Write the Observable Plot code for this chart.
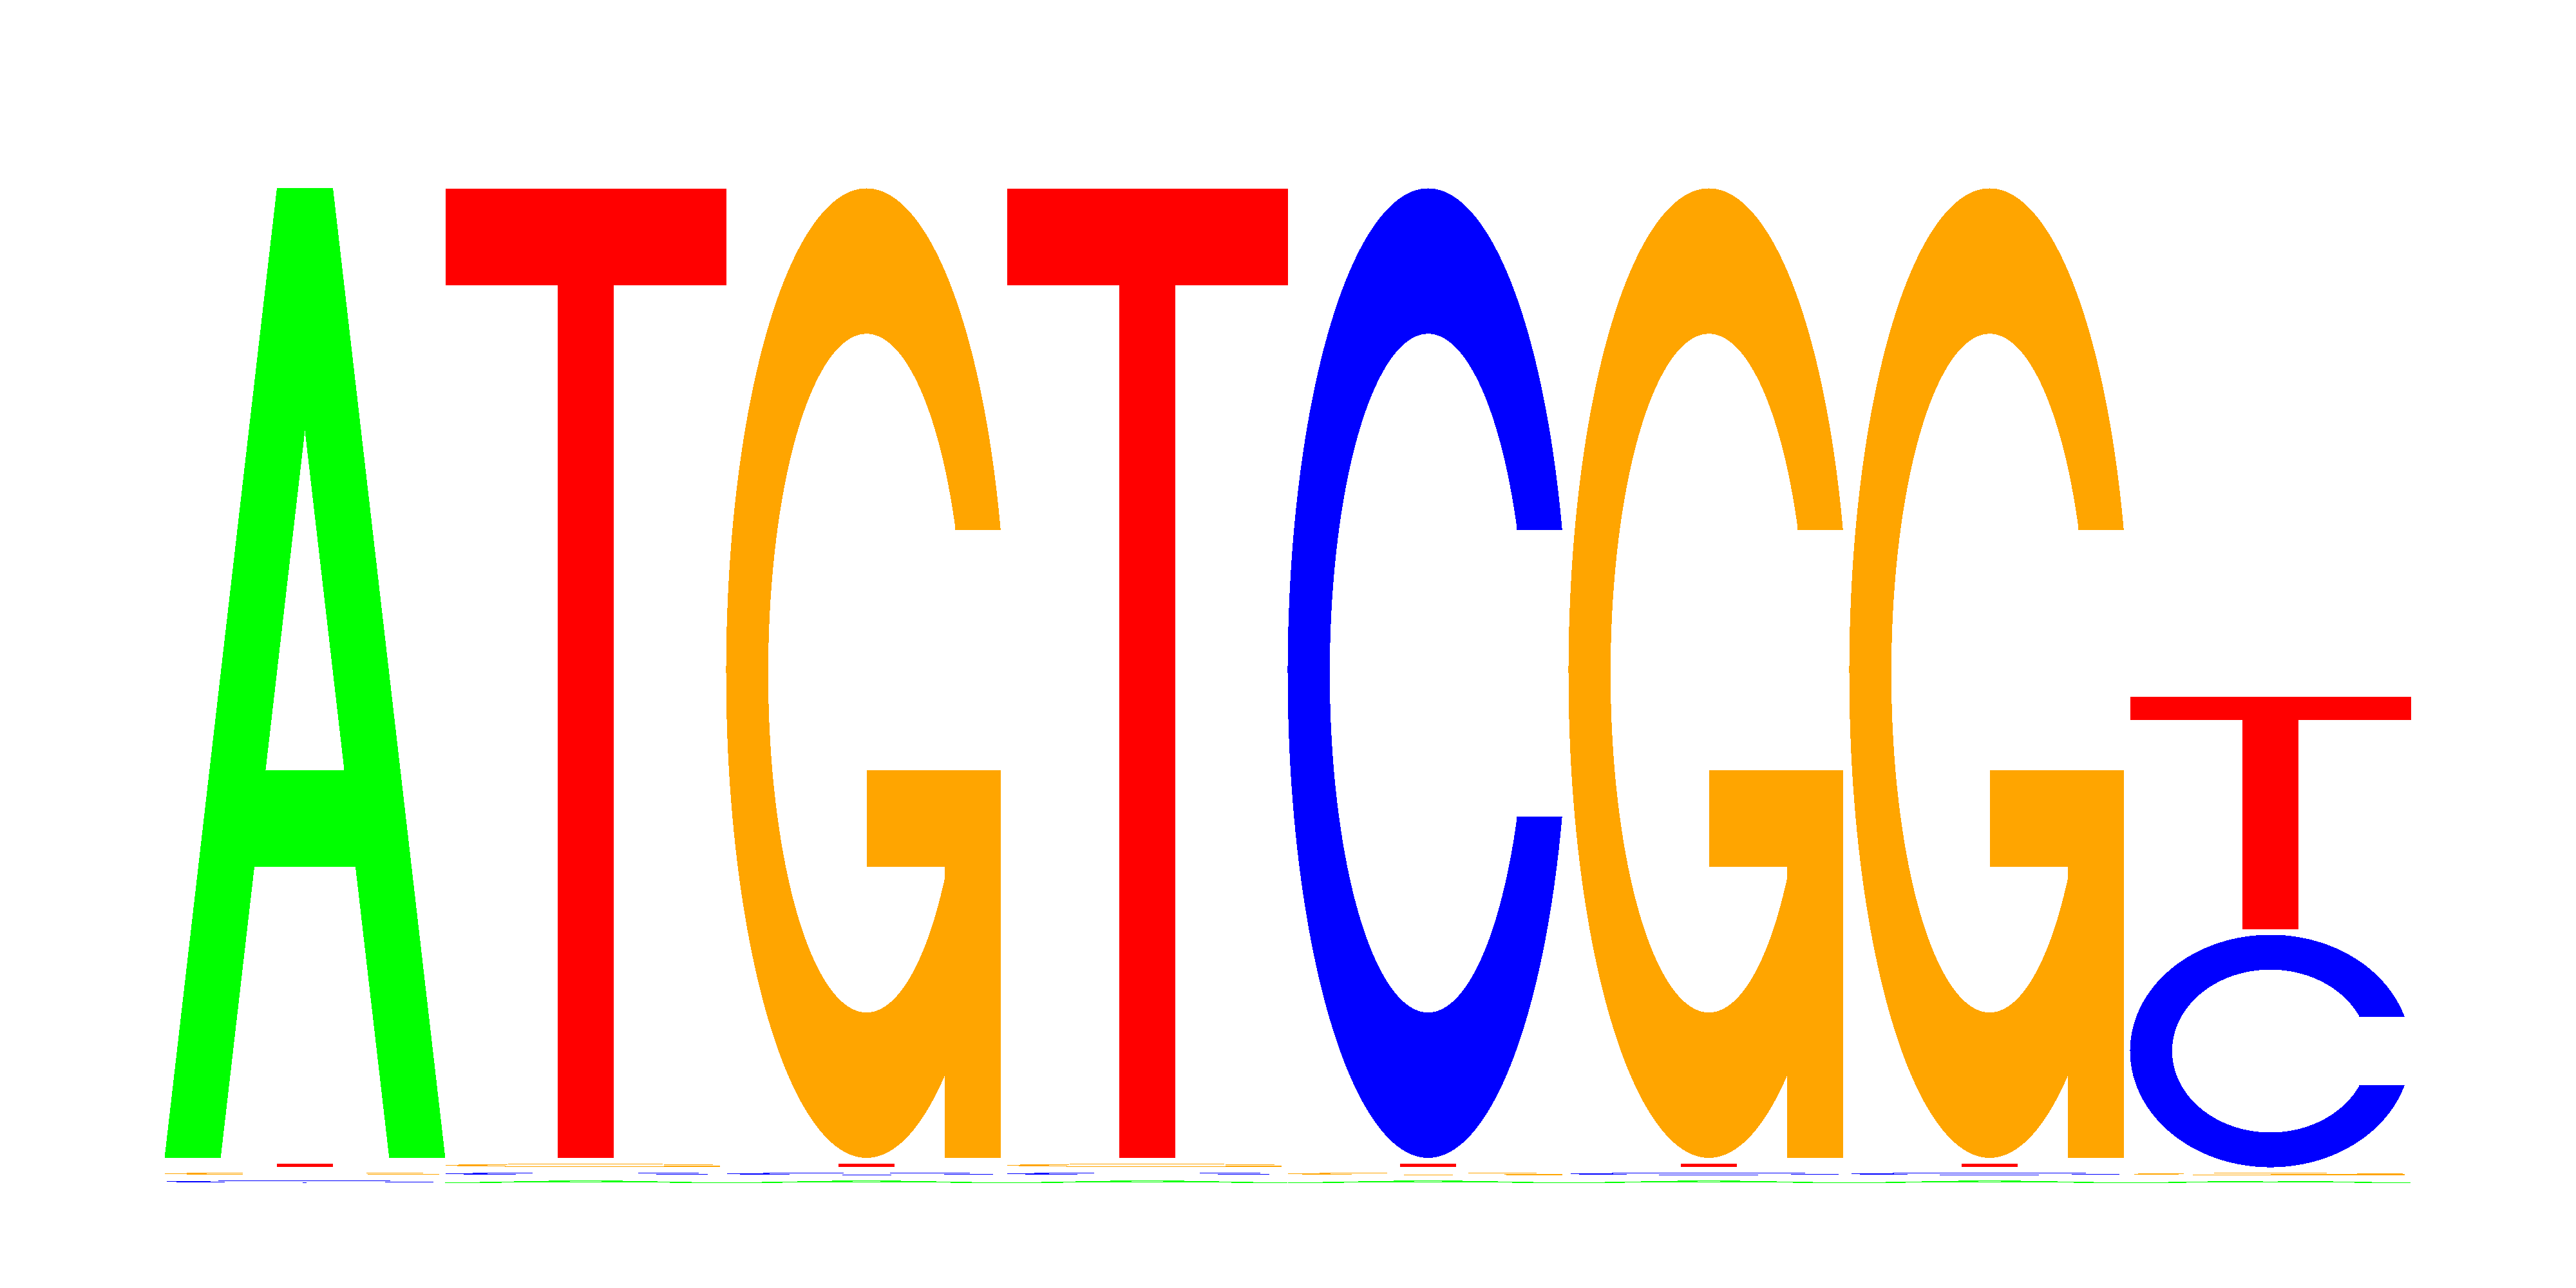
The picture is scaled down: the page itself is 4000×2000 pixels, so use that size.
<!DOCTYPE html>
<html>
<head>
<meta charset="utf-8">
<script src="https://cdn.jsdelivr.net/npm/d3@7"></script>
<script src="https://cdn.jsdelivr.net/npm/@observablehq/plot@0.6"></script>
<style>
  html, body { margin: 0; padding: 0; background: #fff; overflow: hidden; }
</style>
</head>
<body>
<div id="logo"></div>
<script>
const positions = [1, 2, 3, 4, 5, 6, 7, 8];
const bases = ["A", "C", "G", "T"];
const baseColors = ["#00ff00", "#0000ff", "#ffa500", "#ff0000"];

// drawn letter heights (bits) per position
const heightA = [1.7108, 0.0037, 0.0036, 0.0037, 0.0036, 0.0035, 0.0035, 0.0033];
const heightC = [0.0038, 0.0042, 0.0041, 0.0042, 1.7108, 0.0041, 0.0041, 0.4103];
const heightG = [0.0042, 0.0055, 1.7108, 0.0055, 0.0042, 1.7108, 1.7108, 0.0039];
const heightT = [0.00575, 1.7109, 0.00605, 1.7109, 0.00595, 0.00615, 0.00615, 0.4103];
const heights = [heightA, heightC, heightG, heightT];

const letterGap = 0.01; // space left above every letter in a stack
const yMax = 2;

// letter outlines in a unit box, same polygons as the old seqLogo package
const glyphs = (() => {
  const seq = (a, b, n) => d3.range(n).map((i) => a + ((b - a) * i) / (n - 1));
  const ang1 = seq(0.3 + Math.PI / 2, Math.PI, 100);
  const ang2 = seq(Math.PI, 1.5 * Math.PI, 100);
  const arc = (r, angs) =>
    angs.map((a) => [0.5 + r * Math.sin(a), 0.5 + r * Math.cos(a)]);
  const mirror = (pts) => pts.slice().reverse().map(([x, y]) => [x, 1 - y]);

  const outer = [...arc(0.5, ang1), ...arc(0.5, ang2)];
  const cut = d3.max(arc(0.5, ang1), (d) => d[1]);
  const in1 = arc(0.35, ang1).filter((d) => d[1] <= cut);
  in1[0] = [in1[0][0], cut];
  const inner = [...in1, ...arc(0.35, ang2)];
  const ring = [
    ...outer,
    ...mirror(outer),
    ...[...inner, ...mirror(inner)].reverse(),
  ];
  const r1 = d3.max(arc(0.5, ang1), (d) => d[0]);
  const h1 = 0.4;

  const xy = (xs, ys) => xs.map((x, i) => [x / 10, ys[i] / 10]);
  return {
    A: [
      { pts: xy([0, 4, 6, 10, 8, 6.8, 3.2, 2, 0], [0, 10, 10, 0, 0, 3, 3, 0, 0]) },
      { pts: xy([3.6, 5, 6.4, 3.6], [4, 7.5, 4, 4]), hole: true },
    ],
    C: [{ pts: ring }],
    G: [
      { pts: ring },
      {
        pts: [
          [r1, h1], [0.5, h1], [0.5, h1 - 0.1], [r1 - 0.2, h1 - 0.1],
          [r1 - 0.2, 0], [r1, 0], [r1, h1],
        ],
      },
    ],
    T: [{ pts: xy([0, 10, 10, 6, 6, 4, 4, 0], [10, 10, 9, 9, 0, 0, 9, 9]) }],
  };
})();

// stack letters smallest first, like a sequence logo
const rows = [];
positions.forEach((p, j) => {
  const stack = bases
    .map((b, k) => ({ base: b, ht: heights[k][j] }))
    .sort((a, b) => a.ht - b.ht);
  let y0 = 0;
  for (const s of stack) {
    if (s.ht > 0) {
      glyphs[s.base].forEach((part, pi) => {
        part.pts.forEach(([gx, gy]) => {
          rows.push({
            key: `${p}-${s.base}-${pi}`,
            base: s.base,
            hole: !!part.hole,
            x: p - 1 + gx,
            y: y0 + gy * s.ht,
          });
        });
      });
    }
    y0 += s.ht + letterGap;
  }
});

const letterMark = (filter, fill) =>
  Plot.line(rows.filter(filter), {
    x: "x",
    y: "y",
    z: "key",
    fill,
    stroke: "none",
    shapeRendering: "crispEdges",
  });

const chart = Plot.plot({
  width: 4000,
  height: 2000,
  marginLeft: 255,
  marginRight: 257,
  marginTop: 76,
  marginBottom: 164,
  x: { domain: [0, positions.length], axis: null },
  y: { domain: [0, yMax], axis: null },
  marks: [
    ...bases.map((b, k) =>
      letterMark((d) => d.base === b && !d.hole, baseColors[k]),
    ),
    letterMark((d) => d.hole, "#ffffff"),
  ],
});

document.getElementById("logo").appendChild(chart);
</script>
</body>
</html>
